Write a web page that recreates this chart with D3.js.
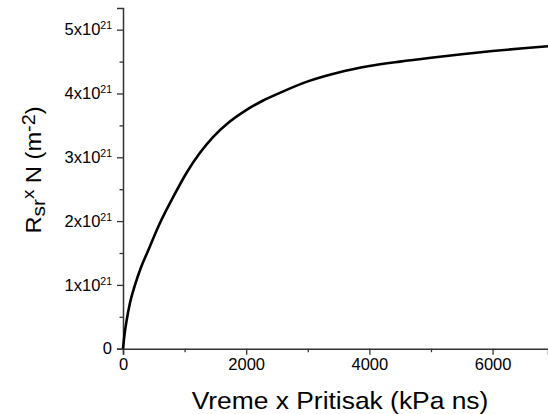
<!DOCTYPE html>
<html><head><meta charset="utf-8">
<script src="https://cdn.jsdelivr.net/npm/d3@7"></script>
<style>
html,body{margin:0;padding:0;background:#fff;}
svg{display:block;font-family:"Liberation Sans",Arial,sans-serif;}
</style></head>
<body>
<svg id="chart" width="548" height="414"></svg>
<script>
// Data: x = Vreme x Pritisak (kPa ns), y = R_sr x N in units of 1e21 m^-2
const xValues = [0, 27, 60, 114, 195, 290, 400, 600, 816, 1040, 1250, 1465, 1735, 2000, 2276, 2546, 3000, 3500, 4000, 4500, 5000, 5500, 6000, 6500, 6900];
const yValues = [0, 0.24, 0.45, 0.72, 1.0, 1.27, 1.52, 1.97, 2.38, 2.77, 3.07, 3.32, 3.56, 3.74, 3.89, 4.01, 4.19, 4.33, 4.43, 4.50, 4.56, 4.615, 4.665, 4.71, 4.74];
const xTicks = [0, 2000, 4000, 6000];
const xMinorTicks = [1000, 3000, 5000];
const yTicks = [0, 1, 2, 3, 4, 5];
const yMinorTicks = [0.5, 1.5, 2.5, 3.5, 4.5];
const xDomain = [0, 6900];
const yDomain = [0, 5.34];

const svg = d3.select("#chart");
const x = d3.scaleLinear().domain(xDomain).range([123, 548]);
const y = d3.scaleLinear().domain(yDomain).range([348.7, 8]);
const axisColor = "#333";
const ff = "Liberation Sans, Arial, sans-serif";

// minor ticks
const gxm = svg.append("g").attr("transform", `translate(0,${y(0)})`)
  .call(d3.axisBottom(x).tickValues(xMinorTicks).tickSize(3.5).tickFormat(""));
const gym = svg.append("g").attr("transform", `translate(${x(0)},0)`)
  .call(d3.axisLeft(y).tickValues(yMinorTicks).tickSize(3.5).tickFormat(""));

// major x axis
const gx = svg.append("g").attr("transform", `translate(0,${y(0)})`)
  .call(d3.axisBottom(x).tickValues(xTicks).tickSize(6).tickPadding(4).tickFormat(d3.format("d")));
gx.selectAll("text").attr("font-size", 16.5).attr("fill", "#000").attr("font-family", ff);

// major y axis
const gy = svg.append("g").attr("transform", `translate(${x(0)},0)`)
  .call(d3.axisLeft(y).tickValues(yTicks).tickSize(6).tickPadding(5).tickFormat(""));
gy.selectAll(".tick").each(function(d){
  const t = d3.select(this).select("text")
    .attr("font-size", 16.5).attr("fill", "#000").attr("font-family", ff)
    .attr("text-anchor", "end");
  t.text(null);
  if (d === 0) { t.text("0"); }
  else {
    t.append("tspan").text(d + "x10");
    t.append("tspan").attr("font-size", 10.5).attr("dy", -6).text("21");
  }
});

[gx, gy, gxm, gym].forEach(g => {
  g.selectAll("path.domain").attr("stroke", axisColor).attr("stroke-width", 1.5);
  g.selectAll(".tick line").attr("stroke", axisColor).attr("stroke-width", 1.3);
});
gxm.select("path.domain").remove();
gym.select("path.domain").remove();

// curve
const data = xValues.map((v, i) => ({x: v, y: yValues[i]}));
svg.append("path").datum(data)
  .attr("fill", "none").attr("stroke", "#000").attr("stroke-width", 2.6)
  .attr("stroke-linejoin", "round")
  .attr("d", d3.line().x(d => x(d.x)).y(d => y(d.y)).curve(d3.curveMonotoneX));

// axis titles
svg.append("text").attr("transform", "translate(340,409) scale(1.1,1)").attr("text-anchor", "middle")
  .attr("font-size", 24).attr("fill", "#000").text("Vreme x Pritisak (kPa ns)");

const yt = svg.append("text").attr("transform", "translate(40.7,170) rotate(-90) scale(1.1,1)")
  .attr("text-anchor", "middle").attr("font-size", 21.5).attr("fill", "#000");
yt.append("tspan").text("R");
yt.append("tspan").attr("font-size", 19).attr("dy", 4).text("sr");
yt.append("tspan").attr("font-size", 17).attr("dy", -10.7).text("x");
yt.append("tspan").attr("dy", 6.7).text(" N (m");
yt.append("tspan").attr("font-size", 18).attr("dy", -6).text("-2");
yt.append("tspan").attr("dy", 6).text(")");
</script>
</body></html>
